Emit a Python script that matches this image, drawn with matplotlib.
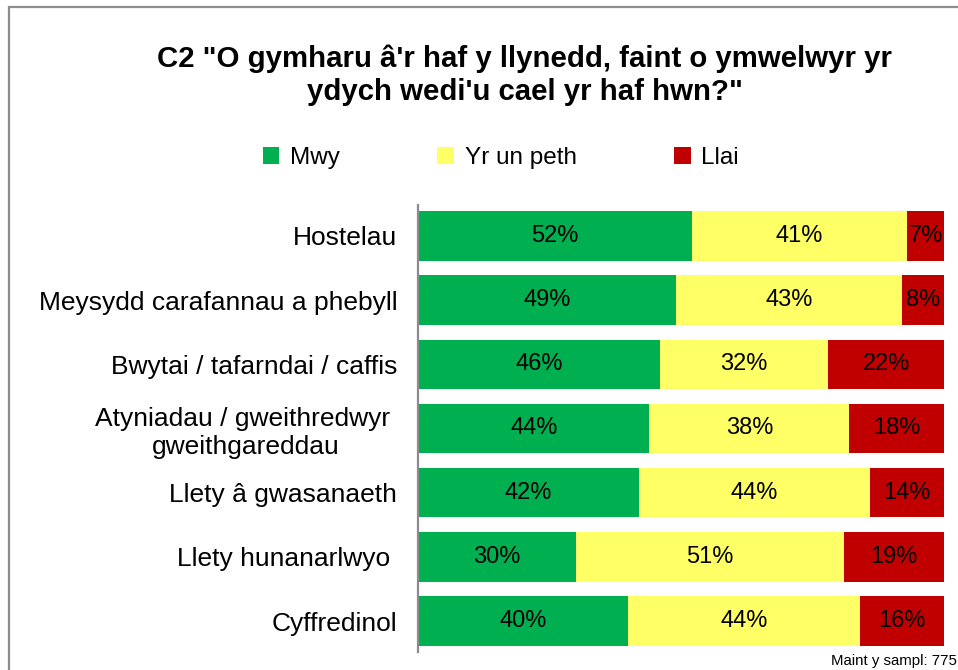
import matplotlib.pyplot as plt
from matplotlib.patches import Rectangle
import numpy as np

plt.rcParams['font.family'] = ['Liberation Sans', 'DejaVu Sans']

categories = [
    "Hostelau",
    "Meysydd carafannau a phebyll",
    "Bwytai / tafarndai / caffis",
    "Atyniadau / gweithredwyr \ngweithgareddau",
    "Llety â gwasanaeth",
    "Llety hunanarlwyo ",
    "Cyffredinol",
]
series_names = ["Mwy", "Yr un peth", "Llai"]
mwy = [52, 49, 46, 44, 42, 30, 40]
yr_un_peth = [41, 43, 32, 38, 44, 51, 44]
llai = [7, 8, 22, 18, 14, 19, 16]
colors = ["#00B050", "#FFFF66", "#C00000"]

W, H = 958, 670
fig = plt.figure(figsize=(W / 100, H / 100), dpi=100)

# outer frame (cut off at right/bottom like the screenshot)
fig.patches.append(Rectangle((9 / W, -0.05), 1.2, 1 - 7 / H + 0.05,
                             transform=fig.transFigure, fill=False,
                             edgecolor="#8c8c8c", linewidth=1.6))

ax = fig.add_axes([418 / W, 1 - 652 / H, (944 - 418) / W, (652 - 205) / H])

y = np.arange(len(categories))
left = np.zeros(len(categories))
handles = []
for name, vals, c in zip(series_names, [mwy, yr_un_peth, llai], colors):
    vals = np.array(vals, dtype=float)
    bars = ax.barh(y, vals, left=left, height=0.77, color=c, label=name)
    handles.append(bars)
    for yi, l, v in zip(y, left, vals):
        ax.text(l + v / 2, yi, f"{int(v)}%", ha="center", va="center",
                fontsize=17, color="black")
    left += vals

ax.set_xlim(0, 100)
ax.set_ylim(len(categories) - 0.52, -0.48)
ax.set_yticks(y)
ax.set_yticklabels(categories, fontsize=19, multialignment="center",
                   linespacing=1.2)
ax.tick_params(axis="y", length=0, pad=15)
ax.tick_params(axis="x", bottom=False, labelbottom=False)
for s in ["top", "right", "bottom"]:
    ax.spines[s].set_visible(False)
ax.spines["left"].set_color("#8c8c8c")
ax.spines["left"].set_linewidth(1.6)

fig.text(0.548, 1 - 75 / H,
         "C2 \"O gymharu â'r haf y llynedd, faint o ymwelwyr yr\nydych wedi'u cael yr haf hwn?\"",
         ha="center", va="center", fontsize=21.2, fontweight="bold",
         linespacing=1.22)

fig.legend(handles, series_names, loc="center left",
           bbox_to_anchor=(253 / W, 1 - 158 / H), ncol=3, frameon=False,
           fontsize=17.5, handlelength=0.68, handleheight=0.68,
           handletextpad=0.45, columnspacing=4.0, borderaxespad=0)

fig.text(831 / W, 1 - 661 / H, "Maint y sampl: 775", ha="left", va="center",
         fontsize=10.8)

fig.savefig("out.png", dpi=100)
